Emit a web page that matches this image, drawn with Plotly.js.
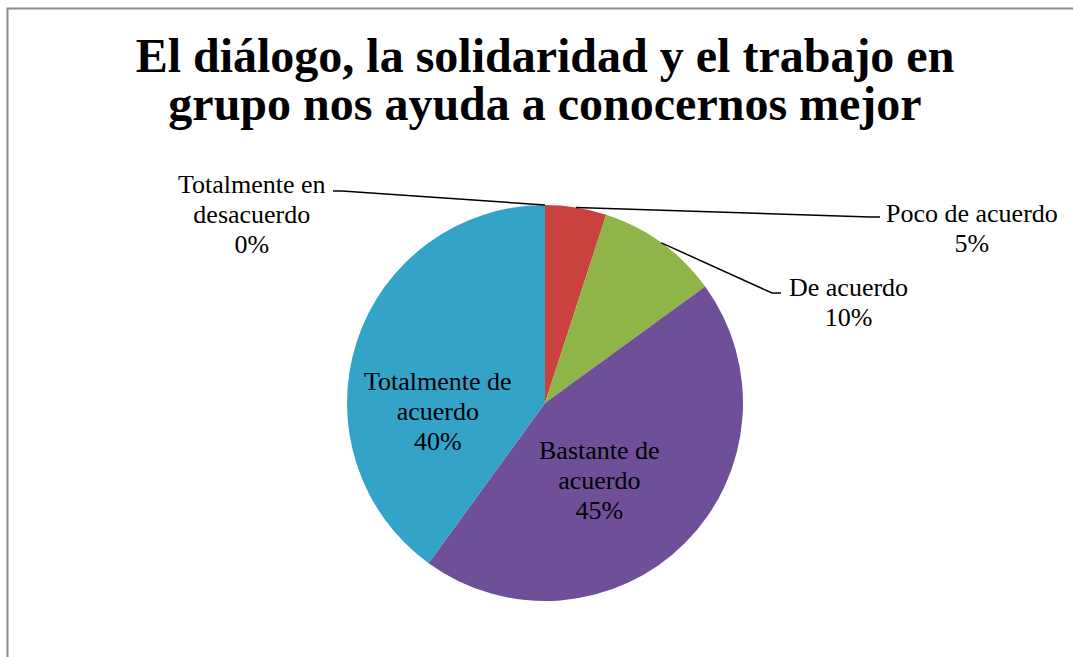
<!DOCTYPE html>
<html>
<head>
<meta charset="utf-8">
<script src="https://cdn.plot.ly/plotly-3.0.1.min.js"></script>
<style>
  html, body { margin: 0; padding: 0; background: #fff; overflow: hidden; }
  #chart { width: 1073px; height: 657px; }
</style>
</head>
<body>
<div id="chart"></div>
<script>
// ---- data ----
const categories = ["Totalmente en desacuerdo", "Poco de acuerdo", "De acuerdo", "Bastante de acuerdo", "Totalmente de acuerdo"];
const displayLabels = ["Totalmente en<br>desacuerdo", "Poco de acuerdo", "De acuerdo", "Bastante de<br>acuerdo", "Totalmente de<br>acuerdo"];
const values = [0, 5, 10, 45, 40];
const sliceColors = ["#4A7EBB", "#C9423E", "#8FB447", "#6F4F98", "#33A3C8"];
const titleLines = ["El diálogo, la solidaridad y el trabajo en", "grupo nos ayuda a conocernos mejor"];

// ---- layout geometry (pixels) ----
const W = 1073, H = 657;
const CX = 545, CY = 403, R = 198;
const px = x => x / W;
const py = y => 1 - y / H;

// label placement (pixels): centre of each label block
const labelPos = [[252, 214], [972, 228], [848, 302], [599, 480], [438, 411]];
// leader line end points for outside labels (elbow point, text end)
const leaders = {
  0: [[342, 191], [333, 191]],
  1: [[870, 217], [880, 217]],
  2: [[772, 293], [781, 293]]
};

const total = values.reduce((a, b) => a + b, 0);
const pct = values.map(v => Math.round(v / total * 100) + '%');

const trace = {
  type: 'pie',
  labels: categories,
  values: values,
  sort: false,
  direction: 'clockwise',
  rotation: 0,
  marker: { colors: sliceColors, line: { width: 0 } },
  textinfo: 'none',
  hoverinfo: 'label+percent',
  showlegend: false,
  domain: { x: [px(CX - R), px(CX + R)], y: [py(CY + R), py(CY - R)] }
};

const serif = 'Liberation Serif, serif';
const labelFont = { family: serif, size: 23, color: '#000' };
const annotations = categories.map((c, i) => ({
  xref: 'paper', yref: 'paper',
  x: px(labelPos[i][0]), y: py(labelPos[i][1]),
  xanchor: 'center', yanchor: 'middle',
  showarrow: false,
  align: 'center',
  font: labelFont,
  text: '<span style="font-size:26px">' + displayLabels[i] + '<br>' + pct[i] + '</span>'
}));

// leader lines start from the middle of each slice's outer edge
const shapes = [];
let cum = 0;
values.forEach((v, i) => {
  const mid = (cum + v / 2) / total * 2 * Math.PI;
  cum += v;
  if (leaders[i]) {
    const sx = CX + R * Math.sin(mid), sy = CY - R * Math.cos(mid);
    const [e1, e2] = leaders[i];
    shapes.push({
      type: 'path', xref: 'paper', yref: 'paper',
      path: `M ${px(sx)} ${py(sy)} L ${px(e1[0])} ${py(e1[1])} L ${px(e2[0])} ${py(e2[1])}`,
      line: { color: '#000', width: 1.5 }
    });
  }
});
// chart area border
shapes.push({
  type: 'rect', xref: 'paper', yref: 'paper',
  x0: px(7.5), y0: py(8.5), x1: 1.2, y1: -0.2,
  line: { color: '#8C8C8C', width: 2 }, fillcolor: 'rgba(0,0,0,0)'
});

const layout = {
  width: W, height: H,
  margin: { l: 0, r: 0, t: 0, b: 0 },
  paper_bgcolor: '#fff',
  title: {
    text: titleLines.map(t => '<span style="font-size:48px">' + t + '</span>').join('<br>'),
    font: { family: serif, size: 37, color: '#000', weight: 'bold' },
    x: px(545), xanchor: 'center',
    yref: 'container', y: py(72), yanchor: 'top'
  },
  annotations: annotations,
  shapes: shapes
};

Plotly.newPlot('chart', [trace], layout, { staticPlot: true, displayModeBar: false });
</script>
</body>
</html>
